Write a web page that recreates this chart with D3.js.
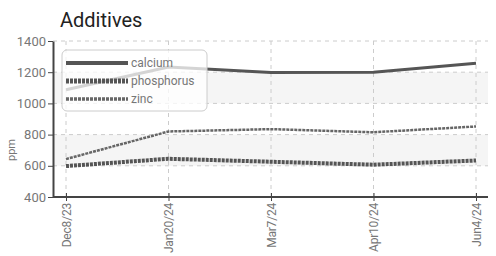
<!DOCTYPE html>
<html>
<head>
<meta charset="utf-8">
<script src="https://cdn.jsdelivr.net/npm/d3@7"></script>
<style>
  body { margin: 0; background: #fff; }
  .tick text { font-family: Roboto, sans-serif; fill: #777; }
</style>
</head>
<body>
<div class="canva"></div>
<script>
const dates = ["Dec8/23", "Jan20/24", "Mar7/24", "Apr10/24", "Jun4/24"];
const calcium = [1088, 1233, 1198, 1200, 1257];
const phosphorus = [598, 645, 626, 607, 634];
const zinc = [643, 820, 835, 815, 852];
const yTicks = [400, 600, 800, 1000, 1200, 1400];

const series = [
  {name: "calcium", values: calcium, width: 3, dash: null, color: "#555"},
  {name: "phosphorus", values: phosphorus, width: 4, dash: "3,1", color: "#555"},
  {name: "zinc", values: zinc, width: 2.5, dash: "3,1", color: "#666"}
];

const svg = d3.select(".canva").append("svg")
              .attr("width", 496)
              .attr("height", 256);

const margin = {top: 41, right: 8, bottom: 59, left: 53};
const graphWidth = 496 - margin.left - margin.right;
const graphHeight = 256 - margin.top - margin.bottom;

const mainCanvas = svg.append("g")
                      .attr("transform", `translate(${margin.left},${margin.top})`);

var x = d3.scalePoint()
          .domain(dates)
          .range([13, 423]);

var y = d3.scaleLinear()
          .domain([400, 1400])
          .range([graphHeight, 0]);

// alternating bands
[[1000, 1200], [600, 800]].forEach(function(b) {
  mainCanvas.append("rect")
            .attr("x", 0)
            .attr("y", y(b[1]))
            .attr("width", graphWidth)
            .attr("height", y(b[0]) - y(b[1]))
            .attr("fill", "#f5f5f5");
});

// grid
mainCanvas.selectAll(".hgrid")
          .data(yTicks.slice(1))
          .enter().append("line")
          .attr("x1", 0).attr("x2", graphWidth)
          .attr("y1", d => y(d)).attr("y2", d => y(d))
          .attr("stroke", "#ccc")
          .attr("stroke-dasharray", "4,4");

mainCanvas.selectAll(".vgrid")
          .data(dates)
          .enter().append("line")
          .attr("x1", d => x(d)).attr("x2", d => x(d))
          .attr("y1", 0).attr("y2", graphHeight)
          .attr("stroke", "#ccc")
          .attr("stroke-dasharray", "4,4");

var valueLine = d3.line()
                  .x((d, i) => x(dates[i]))
                  .y(d => y(d));

series.forEach(function(s) {
  mainCanvas.append("path")
            .datum(s.values)
            .attr("fill", "none")
            .attr("stroke", s.color)
            .attr("stroke-width", s.width)
            .attr("stroke-dasharray", s.dash)
            .attr("d", valueLine);
});

// axes
var xAxis = d3.axisBottom(x).tickSizeInner(4).tickSizeOuter(0).tickPadding(4);
var gx = mainCanvas.append("g")
                   .attr("transform", "translate(0," + graphHeight + ")")
                   .call(xAxis);
gx.select(".domain").attr("d", `M0,0H${graphWidth}`).attr("stroke", "#444").attr("stroke-width", 2);
gx.selectAll(".tick line").attr("y1", -4).attr("stroke", "#444");
gx.selectAll(".tick text")
  .attr("font-size", 12)
  .attr("letter-spacing", "-0.2")
  .attr("transform", "rotate(-90)")
  .attr("text-anchor", "end")
  .attr("x", -6)
  .attr("y", 0)
  .attr("dy", "0.35em");

var yAxis = d3.axisLeft(y).tickValues(yTicks).tickFormat(d3.format("d"))
              .tickSizeInner(5).tickSizeOuter(0).tickPadding(2);
var gy = mainCanvas.append("g").call(yAxis);
gy.select(".domain").attr("stroke", "#444").attr("stroke-width", 2);
gy.selectAll(".tick line").attr("stroke", "#444");
gy.selectAll(".tick text").attr("font-size", 13);

// title and y label
svg.append("text")
   .attr("x", 60).attr("y", 27)
   .attr("font-family", "Roboto, sans-serif")
   .attr("font-size", 20)
   .attr("fill", "#222")
   .text("Additives");

svg.append("text")
   .attr("transform", "translate(15,150) rotate(-90)")
   .attr("text-anchor", "middle")
   .attr("font-family", "Roboto, sans-serif")
   .attr("font-size", 11)
   .attr("fill", "#777")
   .text("ppm");

// legend
var legend = svg.append("g").attr("transform", "translate(62,50)");
legend.append("rect")
      .attr("width", 145).attr("height", 61)
      .attr("rx", 5)
      .attr("fill", "rgba(255,255,255,0.75)")
      .attr("stroke", "#ccc");

series.forEach(function(s, i) {
  var yy = 13 + i * 18;
  legend.append("line")
        .attr("x1", 4).attr("x2", 66)
        .attr("y1", yy).attr("y2", yy)
        .attr("stroke", s.color)
        .attr("stroke-width", s.width + 1)
        .attr("stroke-dasharray", s.dash);
  legend.append("text")
        .attr("x", 69).attr("y", yy)
        .attr("dy", "0.35em")
        .attr("font-family", "Roboto, sans-serif")
        .attr("font-size", 12)
        .attr("fill", "#777")
        .text(s.name);
});
</script>
</body>
</html>
